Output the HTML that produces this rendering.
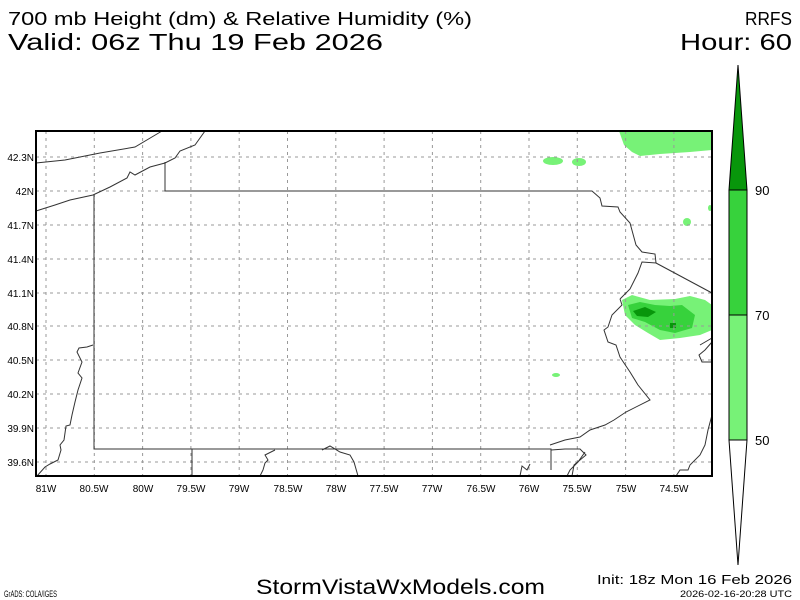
<!DOCTYPE html>
<html><head><meta charset="utf-8"><style>
body{margin:0;background:#fff}
svg{display:block}
text{font-family:"Liberation Sans",sans-serif;fill:#000}
</style></head><body>
<svg width="800" height="600" xmlns="http://www.w3.org/2000/svg">
<rect width="800" height="600" fill="#fff"/>
<text x="8" y="25" font-size="18" textLength="464" lengthAdjust="spacingAndGlyphs">700 mb Height (dm) &amp; Relative Humidity (%)</text>
<text x="8" y="50" font-size="23" textLength="375" lengthAdjust="spacingAndGlyphs">Valid: 06z Thu 19 Feb 2026</text>
<text x="745" y="25" font-size="18" textLength="47" lengthAdjust="spacingAndGlyphs">RRFS</text>
<text x="680" y="50" font-size="23" textLength="112" lengthAdjust="spacingAndGlyphs">Hour: 60</text>

<g>
<path d="M619,131 L712,131 L712,150 L690,152 L660,154 L640,156 L632,152 L624,145 Z" fill="#77f277"/>
<ellipse cx="553" cy="161" rx="10" ry="4" fill="#77f277"/>
<ellipse cx="579" cy="162" rx="7" ry="4" fill="#77f277"/>
<ellipse cx="687" cy="222" rx="4" ry="4" fill="#77f277"/>
<ellipse cx="710" cy="208" rx="2" ry="3" fill="#77f277"/>
<ellipse cx="556" cy="375" rx="4" ry="2" fill="#77f277"/>
<path d="M622,300 L632,295 L650,300 L675,299 L690,296 L705,300 L712,305 L712,330 L700,335 L680,338 L660,340 L648,333 L635,325 L625,315 Z" fill="#77f277"/>
<path d="M628,305 L640,302 L655,305 L670,306 L682,305 L695,315 L692,328 L675,333 L660,330 L645,322 L632,318 Z" fill="#37d23c"/>
<path d="M633,311 L645,307 L656,312 L648,317 L637,316 Z" fill="#08960b"/>
<rect x="670" y="323" width="6" height="5" fill="#08960b"/>
</g>

<g stroke="#999" stroke-width="1" stroke-dasharray="3,4">
<line x1="46" y1="131" x2="46" y2="476"/><line x1="94.3" y1="131" x2="94.3" y2="476"/><line x1="142.6" y1="131" x2="142.6" y2="476"/><line x1="190.9" y1="131" x2="190.9" y2="476"/><line x1="239.2" y1="131" x2="239.2" y2="476"/><line x1="287.5" y1="131" x2="287.5" y2="476"/><line x1="335.8" y1="131" x2="335.8" y2="476"/><line x1="384.1" y1="131" x2="384.1" y2="476"/><line x1="432.4" y1="131" x2="432.4" y2="476"/><line x1="480.7" y1="131" x2="480.7" y2="476"/><line x1="529" y1="131" x2="529" y2="476"/><line x1="577.3" y1="131" x2="577.3" y2="476"/><line x1="625.6" y1="131" x2="625.6" y2="476"/><line x1="673.9" y1="131" x2="673.9" y2="476"/>
<line x1="36" y1="157" x2="712" y2="157"/><line x1="36" y1="191" x2="712" y2="191"/><line x1="36" y1="225" x2="712" y2="225"/><line x1="36" y1="259" x2="712" y2="259"/><line x1="36" y1="293" x2="712" y2="293"/><line x1="36" y1="326" x2="712" y2="326"/><line x1="36" y1="360" x2="712" y2="360"/><line x1="36" y1="394" x2="712" y2="394"/><line x1="36" y1="428" x2="712" y2="428"/><line x1="36" y1="462" x2="712" y2="462"/>
</g>

<g fill="none" stroke="#333" stroke-width="1">
<path d="M36,163 L65,160 L100,153 L135,147 L162,131"/>
<path d="M36,211 L55,205 L70,200 L93,195 L110,187 L127,178 L130,172 L135,175 L150,167 L165,163 L175,158 L180,151 L195,145 L205,131"/>
<path d="M165,162 L165,191 L592,191 L600,198 L602,206 L618,207 L620,212 L630,223 L636,245 L642,252 L655,254 L656,263 L642,262 L638,273 L630,289 L620,299"/>
<path d="M656,263 L712,293"/>
<path d="M94,195 L94,449 L551,449 L551,470"/>
<path d="M192,449 L192,476"/>
<path d="M93,345 L87,347 L79,348 L77,352 L82,362 L78,373 L82,378 L78,390 L75,402 L72,415 L70,425 L66,426 L64,440 L60,445 L61,450 L58,460 L50,464 L45,467 L37,476"/>
<path d="M620,299 L622,305 L612,315 L608,327 L604,330 L608,342 L616,345 L620,357 L630,372 L638,385 L650,400 L626,412 L614,420 L605,425 L590,430 L580,437 L565,440 L550,445"/>
<path d="M551,450 L565,449 L580,449 L586,455 L580,460 L574,465 L572,476"/>
<path d="M585,452 L578,462 L570,470 L567,476"/>
<path d="M700,345 L712,338 M712,342 L705,350 L699,355 L702,362 L712,362"/>
<path d="M712,415 L708,430 L705,445 L700,455 L690,465 L688,470 L680,470 L676,476"/>
<path d="M520,476 L522,466 L527,470 L530,464"/>
<path d="M260,476 L263,470 L265,463 L268,460 L265,455 L275,450"/>
<path d="M322,450 L330,446 L340,452 L350,455 L354,462 L358,476"/>
</g>
<rect x="36" y="131" width="676" height="345" fill="none" stroke="#000" stroke-width="2"/>

<g font-size="10" text-anchor="end">
<text x="34" y="161">42.3N</text><text x="34" y="195">42N</text><text x="34" y="229">41.7N</text><text x="34" y="263">41.4N</text><text x="34" y="297">41.1N</text><text x="34" y="330">40.8N</text><text x="34" y="364">40.5N</text><text x="34" y="398">40.2N</text><text x="34" y="432">39.9N</text><text x="34" y="466">39.6N</text>
</g>
<g font-size="10" text-anchor="middle">
<text x="46" y="492">81W</text><text x="94" y="492">80.5W</text><text x="143" y="492">80W</text><text x="191" y="492">79.5W</text><text x="239" y="492">79W</text><text x="288" y="492">78.5W</text><text x="336" y="492">78W</text><text x="384" y="492">77.5W</text><text x="432" y="492">77W</text><text x="481" y="492">76.5W</text><text x="529" y="492">76W</text><text x="577" y="492">75.5W</text><text x="626" y="492">75W</text><text x="674" y="492">74.5W</text>
</g>

<g stroke="#000" stroke-width="1">
<path d="M738,65 L747,190 L729,190 Z" fill="#08960b"/>
<rect x="729" y="190" width="18" height="125" fill="#37d23c"/>
<rect x="729" y="315" width="18" height="125" fill="#77f277"/>
<path d="M729,440 L747,440 L738,565 Z" fill="#fff"/>
</g>
<g font-size="13"><text x="755" y="195">90</text><text x="755" y="320">70</text><text x="755" y="445">50</text></g>

<text x="256" y="594" font-size="21" textLength="289" lengthAdjust="spacingAndGlyphs">StormVistaWxModels.com</text>
<text x="597" y="584" font-size="13" textLength="195" lengthAdjust="spacingAndGlyphs">Init: 18z Mon 16 Feb 2026</text>
<text x="680" y="597" font-size="9" textLength="112" lengthAdjust="spacingAndGlyphs">2026-02-16-20:28 UTC</text>
<text x="4" y="597" font-size="9" textLength="53" lengthAdjust="spacingAndGlyphs">GrADS: COLA/IGES</text>
</svg>
</body></html>
